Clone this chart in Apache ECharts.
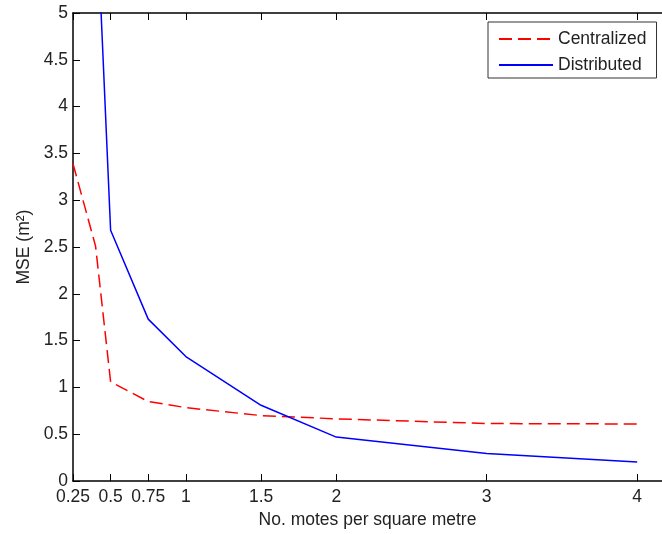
<!DOCTYPE html>
<html>
<head>
<meta charset="utf-8">
<script src="https://cdn.jsdelivr.net/npm/echarts@6/dist/echarts.min.js"></script>
<style>html,body{margin:0;padding:0;background:#fff}#c{width:662px;height:534px}</style>
</head>
<body>
<div id="c"></div>
<script>
const xValues = [0.25, 0.4, 0.5, 0.75, 1, 1.5, 2, 3, 4];
const centralized = [3.39, 2.51, 1.06, 0.85, 0.785, 0.70, 0.665, 0.615, 0.61];
const distributed = [null, 6.35, 2.68, 1.73, 1.33, 0.81, 0.47, 0.295, 0.205];
const xTicks = [0.25, 0.5, 0.75, 1, 1.5, 2, 3, 4];
const seriesNames = ['Centralized', 'Distributed'];
const xTitle = 'No. motes per square metre';
const yTitle = 'MSE (m²)';

const font = "'Liberation Sans', Arial, sans-serif";
const txt = '#222';
const fs = 17.5;
const chart = echarts.init(document.getElementById('c'), null, {renderer: 'canvas'});
const pairs = arr => xValues.map((x, i) => [x, arr[i]]);
chart.setOption({
  backgroundColor: '#fff',
  animation: false,
  grid: {left: 73, top: 13, width: 592, height: 469, containLabel: false},
  legend: {
    orient: 'vertical', left: 488, top: 22,
    padding: [8, 10, 4, 10],
    itemWidth: 54, itemHeight: 17, itemGap: 8,
    borderColor: '#333', borderWidth: 1, backgroundColor: '#fff',
    itemStyle: {opacity: 0},
    textStyle: {fontFamily: font, fontSize: fs, color: txt, lineHeight: 17},
    data: seriesNames
  },
  xAxis: [{
    type: 'value', position: 'bottom', min: 0.25, max: 4.165,
    name: xTitle, nameLocation: 'middle', nameGap: 29,
    nameTextStyle: {fontFamily: font, fontSize: fs, color: txt},
    axisLine: {show: true, onZero: false, lineStyle: {color: '#000', width: 1.5}},
    axisTick: {show: true, inside: true, length: 7, customValues: xTicks, lineStyle: {color: '#000'}},
    axisLabel: {customValues: xTicks, margin: 7, fontFamily: font, fontSize: fs, color: txt, hideOverlap: false,
      formatter: v => String(v)},
    splitLine: {show: false}
  }, {
    type: 'value', position: 'top', min: 0.25, max: 4.165,
    axisLine: {show: true, onZero: false, lineStyle: {color: '#000', width: 1.5}},
    axisTick: {show: true, inside: true, length: 7, customValues: xTicks, lineStyle: {color: '#000'}},
    axisLabel: {show: false},
    splitLine: {show: false}
  }],
  yAxis: [{
    type: 'value', min: 0, max: 5, interval: 0.5,
    name: yTitle, nameLocation: 'middle', nameGap: 37, nameRotate: 90,
    nameTextStyle: {fontFamily: font, fontSize: fs, color: txt},
    axisLine: {show: true, onZero: false, lineStyle: {color: '#000', width: 1.5}},
    axisTick: {show: true, inside: true, length: 7, lineStyle: {color: '#000'}},
    axisLabel: {margin: 5, fontFamily: font, fontSize: fs, color: txt, showMinLabel: true, showMaxLabel: true},
    splitLine: {show: false}
  }],
  series: [{
    name: seriesNames[0], type: 'line', xAxisIndex: 0, symbol: 'none',
    data: pairs(centralized),
    lineStyle: {color: '#ff0000', width: 1.5, type: [13, 6]},
    itemStyle: {color: '#ff0000'}
  }, {
    name: seriesNames[1], type: 'line', xAxisIndex: 0, symbol: 'none',
    data: pairs(distributed), connectNulls: false,
    lineStyle: {color: '#0000ff', width: 1.5, type: 'solid'},
    itemStyle: {color: '#0000ff'}
  }]
});
</script>
</body>
</html>
